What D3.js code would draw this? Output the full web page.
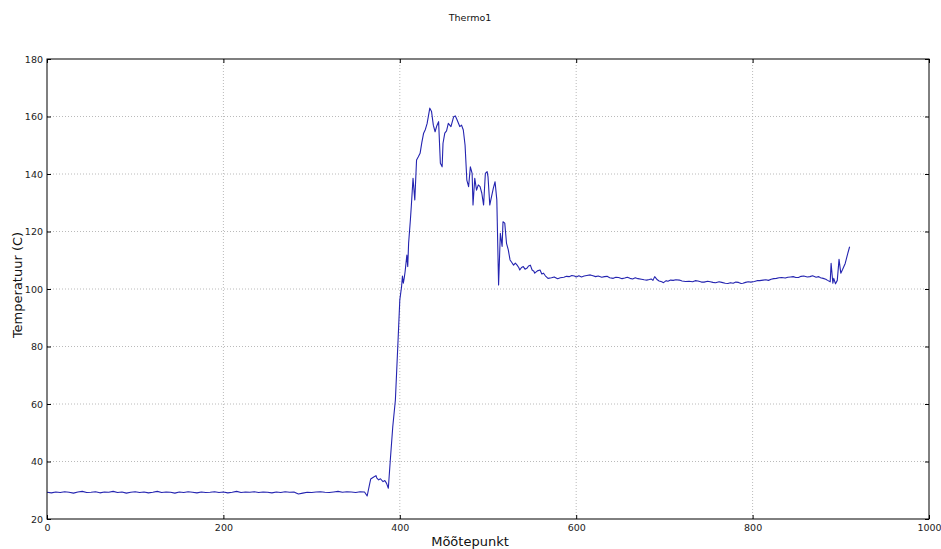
<!DOCTYPE html>
<html>
<head>
<meta charset="utf-8">
<script src="https://cdn.jsdelivr.net/npm/d3@7"></script>
<style>
  html, body { margin: 0; padding: 0; background: #fff; }
  svg { display: block; font-family: "DejaVu Sans", sans-serif; }
</style>
</head>
<body>
<svg id="chart" width="941" height="549"></svg>
<script>
// ---- data ----
const titleText = "Thermo1";
const xLabel = "Mõõtepunkt";
const yLabel = "Temperatuur (C)";
const xTicks = [0, 200, 400, 600, 800, 1000];
const yTicks = [20, 40, 60, 80, 100, 120, 140, 160, 180];

// flat start segment: point index 0..360 every 5
const flatIndex = [0,5,10,15,20,25,30,35,40,45,50,55,60,65,70,75,80,85,90,95,100,105,110,115,120,125,130,135,140,145,150,155,160,165,170,175,180,185,190,195,200,205,210,215,220,225,230,235,240,245,250,255,260,265,270,275,280,285,290,295,300,305,310,315,320,325,330,335,340,345,350,355,360];
const flatTemp  = [29.3,29.1,29.4,29.2,29.5,29.3,29.0,29.4,29.6,29.2,29.3,29.5,29.1,29.4,29.3,29.6,29.2,29.4,29.0,29.3,29.5,29.2,29.4,29.1,29.3,29.6,29.2,29.4,29.3,29.0,29.4,29.2,29.5,29.3,29.1,29.4,29.2,29.3,29.5,29.2,29.4,29.1,29.3,29.6,29.2,29.4,29.3,29.5,29.2,29.4,29.3,29.1,29.4,29.2,29.5,29.3,29.4,28.7,29.0,29.3,29.2,29.4,29.5,29.3,29.2,29.4,29.6,29.3,29.5,29.4,29.2,29.5,29.4];

// rest of the run
const runIndex = [363,366,367,370,373,374,376,378,381,383,385,387,389,392,395,398,400,402,403,404,405,406,408,409,410,412,413,415,417,419,421,423,425,427,429,431,434,436,438,440,442,444,446,448,449,451,453,455,458,461,463,465,468,470,472,474,476,478,480,482,483,485,487,489,491,493,495,497,499,500,502,504,506,508,510,512,514,516,517,519,521,523,525,527,529,531,533,535,536,538,540,542,544,546,548,550,552,553,556,559,561,563,565,568,572,575,579,582,586,589,592,595,598,600,603,606,609,612,616,619,622,625,629,632,635,638,642,645,648,652,655,658,661,664,667,670,674,677,680,683,685,687,689,692,694,697,699,702,704,707,710,713,717,720,724,728,732,735,738,742,745,749,752,755,758,762,765,769,772,775,778,781,784,787,789,792,795,798,802,805,808,812,815,818,821,824,827,830,833,837,840,843,846,849,852,855,858,862,865,868,872,875,877,880,883,885,888,889,891,892,894,896,898,900,902,905,908,910];
const runTemp  = [28.0,32.5,33.9,34.5,35.1,34.2,33.6,34.0,33.0,33.4,32.4,30.7,39.5,52.0,61.4,82.0,96.2,100.8,104.5,102.0,103.8,106.0,111.8,107.8,116.0,124.0,128.6,138.5,131.0,144.9,146.0,147.2,151.0,154.2,155.5,157.6,162.9,161.7,157.0,154.7,156.8,158.2,143.7,142.5,150.7,154.2,155.0,157.6,156.5,159.9,160.2,158.8,156.5,157.0,155.3,150.0,137.9,135.6,142.5,140.2,129.2,138.5,134.4,136.2,135.6,133.3,129.2,140.2,140.8,139.1,129.2,132.1,135.0,137.3,131.0,101.4,119.4,114.8,123.4,122.9,115.9,113.6,110.1,109.2,108.3,109.0,108.3,107.4,106.6,107.5,107.8,106.9,107.2,108.0,108.3,106.6,106.2,105.5,106.3,106.6,105.2,105.5,104.6,103.7,103.9,104.2,103.6,103.9,104.1,104.4,104.3,104.7,104.5,104.2,104.6,104.2,104.5,104.7,104.9,104.6,104.3,104.5,104.1,104.3,104.4,103.9,103.7,104.1,104.0,103.6,103.8,104.1,103.7,103.5,103.9,103.6,103.4,103.2,103.1,103.3,103.5,103.0,104.3,103.2,102.8,102.5,102.2,102.9,102.7,103.1,103.0,103.2,103.1,102.8,102.6,102.7,102.5,102.9,102.8,102.4,102.4,102.7,102.5,102.3,102.2,102.5,102.3,102.0,101.9,102.2,102.0,102.4,102.3,101.9,102.0,102.3,102.5,102.4,102.6,102.9,102.9,103.1,103.2,103.0,103.4,103.6,103.7,103.9,104.0,103.8,104.1,104.2,104.3,104.0,104.0,104.4,104.5,104.2,104.3,104.6,104.1,104.3,103.9,103.7,103.4,103.0,102.5,108.9,102.0,103.7,101.8,103.0,110.3,105.5,106.8,108.9,112.5,114.7];

// ---- layout ----
const svg = d3.select("#chart");
const mLeft = 47, mRight = 929, mTop = 59, mBottom = 519;

const x = d3.scaleLinear().domain([0, 1000]).range([mLeft, mRight]);
const y = d3.scaleLinear().domain([20, 180]).range([mBottom, mTop]);

// grid
const grid = svg.append("g");
grid.selectAll("line.gx").data(xTicks.slice(1, -1)).join("line")
  .attr("x1", d => x(d)).attr("x2", d => x(d))
  .attr("y1", mTop).attr("y2", mBottom)
  .attr("stroke", "#a8a8a8").attr("stroke-width", 0.8).attr("stroke-dasharray", "1,2");
grid.selectAll("line.gy").data(yTicks.slice(1, -1)).join("line")
  .attr("y1", d => y(d)).attr("y2", d => y(d))
  .attr("x1", mLeft).attr("x2", mRight)
  .attr("stroke", "#a8a8a8").attr("stroke-width", 0.8).attr("stroke-dasharray", "1,2");

// data line
const pts = flatIndex.map((d, i) => [d, flatTemp[i]])
  .concat(runIndex.map((d, i) => [d, runTemp[i]]));
const line = d3.line().x(d => x(d[0])).y(d => y(d[1]));
svg.append("path").datum(pts)
  .attr("d", line)
  .attr("fill", "none")
  .attr("stroke", "#2424b0")
  .attr("stroke-width", 1.1)
  .attr("stroke-linejoin", "round");

// axes (ticks inward on all four sides)
const tickLen = 4;
const fmt = d3.format("d");
svg.append("g").attr("transform", `translate(0,${mBottom})`)
  .call(d3.axisBottom(x).tickValues(xTicks).tickFormat(fmt).tickSizeInner(-tickLen).tickSizeOuter(0).tickPadding(5))
  .call(g => g.select(".domain").remove())
  .call(g => g.selectAll("text").attr("font-size", 9.5).attr("fill", "#222").attr("font-family", "DejaVu Sans"));
svg.append("g").attr("transform", `translate(0,${mTop})`)
  .call(d3.axisTop(x).tickValues(xTicks).tickSizeInner(-tickLen).tickSizeOuter(0).tickFormat(""))
  .call(g => g.select(".domain").remove());
svg.append("g").attr("transform", `translate(${mLeft},0)`)
  .call(d3.axisLeft(y).tickValues(yTicks).tickFormat(fmt).tickSizeInner(-tickLen).tickSizeOuter(0).tickPadding(4))
  .call(g => g.select(".domain").remove())
  .call(g => g.selectAll("text").attr("font-size", 9.5).attr("fill", "#222").attr("font-family", "DejaVu Sans"));
svg.append("g").attr("transform", `translate(${mRight},0)`)
  .call(d3.axisRight(y).tickValues(yTicks).tickSizeInner(-tickLen).tickSizeOuter(0).tickFormat(""))
  .call(g => g.select(".domain").remove());

// frame
svg.append("rect")
  .attr("x", mLeft).attr("y", mTop)
  .attr("width", mRight - mLeft).attr("height", mBottom - mTop)
  .attr("fill", "none").attr("stroke", "#000").attr("stroke-width", 1);

// labels
svg.append("text").attr("x", 470).attr("y", 21)
  .attr("text-anchor", "middle").attr("font-size", 9.5).attr("fill", "#111")
  .text(titleText);
svg.append("text").attr("x", 470).attr("y", 546)
  .attr("text-anchor", "middle").attr("font-size", 13).attr("fill", "#111")
  .text(xLabel);
svg.append("text")
  .attr("transform", "translate(22,285) rotate(-90)")
  .attr("text-anchor", "middle").attr("font-size", 13).attr("fill", "#111")
  .text(yLabel);
</script>
</body>
</html>
